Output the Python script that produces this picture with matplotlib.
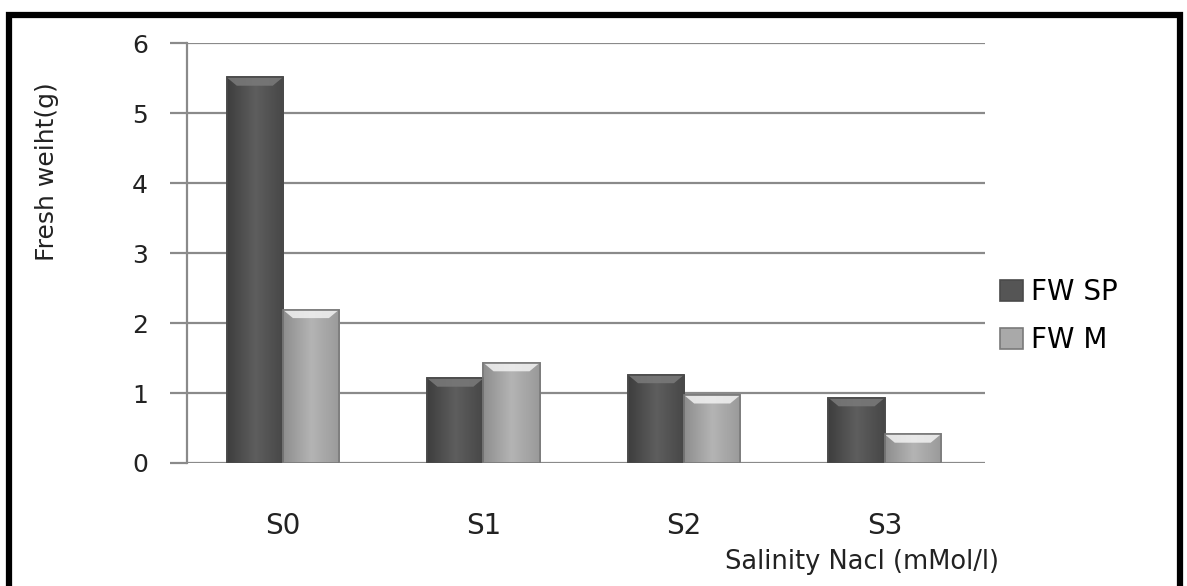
import numpy as np
import matplotlib
matplotlib.use("Agg")
import matplotlib.pyplot as plt
from matplotlib.patches import Rectangle, Polygon
from matplotlib.colors import LinearSegmentedColormap

categories = ["S0", "S1", "S2", "S3"]
fw_sp = [5.51, 1.21, 1.26, 0.93]
fw_m = [2.19, 1.43, 0.97, 0.41]
series_names = ["FW SP", "FW M"]
yticks = [0, 1, 2, 3, 4, 5, 6]

plt.rcParams["font.family"] = ["DejaVu Sans"]

fig = plt.figure(figsize=(11.87, 5.86), dpi=100)
ax = fig.add_axes([0.1575, 0.2099, 0.6723, 0.7167])

x = np.arange(len(categories))
width = 0.28
series = [fw_sp, fw_m]
base_colors = ["#555555", "#a9a9a9"]
edge_colors = ["#4a4a4a", "#7a7a7a"]
cmaps = [
    LinearSegmentedColormap.from_list("dk", ["#3e3e3e", "#5e5e5e", "#474747"]),
    LinearSegmentedColormap.from_list("lt", ["#8e8e8e", "#b4b4b4", "#9a9a9a"]),
]
top_colors = ["#7a7a7a", "#f2f2f2"]

grad = np.linspace(0, 1, 64).reshape(1, -1)
for i, (vals, col, ecol, cm, tcol) in enumerate(zip(series, base_colors, edge_colors, cmaps, top_colors)):
    offs = (i - 0.5) * width
    bars = ax.bar(x + offs, vals, width, color=col, edgecolor=ecol, linewidth=1.2,
                  zorder=3, label=series_names[i])
    for b in bars:
        bx, bw, bh = b.get_x(), b.get_width(), b.get_height()
        im = ax.imshow(grad, cmap=cm, aspect="auto", extent=(bx, bx + bw, 0, bh),
                       zorder=3.1, interpolation="bicubic")
        im.set_clip_path(b)
        # bevel highlight along the top edge
        bev = min(0.12, bh * 0.3)
        inset = bw * 0.18
        top = Polygon([(bx, bh), (bx + bw, bh), (bx + bw - inset, bh - bev), (bx + inset, bh - bev)],
                      closed=True, facecolor=tcol, edgecolor="none", alpha=0.85, zorder=3.2)
        ax.add_patch(top)
        ax.add_patch(Rectangle((bx, 0), bw, bh, facecolor="none", edgecolor=ecol,
                               linewidth=1.2, zorder=3.3))

ax.set_xlim(-0.478, 3.5)
ax.set_ylim(0, 6)
ax.set_yticks(yticks)
ax.set_yticklabels([str(t) for t in yticks], fontsize=18, color="#222222")
ax.yaxis.grid(True, color="#8a8a8a", linewidth=1.6, zorder=0)
ax.set_axisbelow(True)
ax.tick_params(axis="y", length=12, width=1.6, color="#8a8a8a", pad=16)
ax.set_xticks(x)
ax.set_xticklabels(categories, fontsize=20, color="#222222")
ax.tick_params(axis="x", length=0, pad=35)
for s in ["top", "right", "bottom"]:
    ax.spines[s].set_visible(False)
ax.spines["left"].set_color("#8a8a8a")
ax.spines["left"].set_linewidth(1.6)

fig.text(47 / 1187, 1 - 172 / 586, "Fresh weiht(g)", fontsize=18, color="#222222",
         rotation=90, ha="center", va="center")
fig.text(0.726, 0.041, "Salinity Nacl (mMol/l)", fontsize=18.5, color="#222222",
         ha="center", va="center")

leg = ax.legend(loc="center left", bbox_to_anchor=(0.995, 0.35), frameon=False,
                fontsize=20, handlelength=0.8, handleheight=0.8, handletextpad=0.3,
                labelspacing=0.72, borderaxespad=0.3)

# outer frame
fig.patches.append(Rectangle((0.008, -0.02), 0.986, 0.995, transform=fig.transFigure,
                             fill=False, edgecolor="black", linewidth=4.5))

fig.savefig("out.png", dpi=100, facecolor="white")
